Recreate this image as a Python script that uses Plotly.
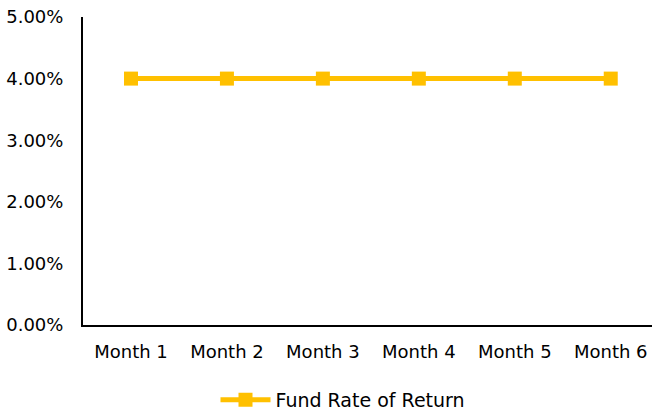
import plotly.graph_objects as go

months = ["Month 1", "Month 2", "Month 3", "Month 4", "Month 5", "Month 6"]
fund_return = [0.04, 0.04, 0.04, 0.04, 0.04, 0.04]
series_name = "Fund Rate of Return"

fig = go.Figure()
fig.add_trace(go.Scatter(
    x=months, y=fund_return, name=series_name, mode="lines+markers",
    line=dict(color="#FFC000", width=5),
    marker=dict(symbol="square", size=14, color="#FFC000"),
    cliponaxis=False,
))

font = dict(family="DejaVu Sans", size=18, color="#000000")
fig.update_layout(
    width=652, height=412,
    margin=dict(l=83, r=0, t=17, b=87, autoexpand=False),
    paper_bgcolor="white", plot_bgcolor="white",
    font=font,
    showlegend=True,
    legend=dict(orientation="h", x=343 / 652, xref="container", xanchor="center",
                y=-(400 - 325) / (325 - 17), yref="paper", yanchor="middle",
                font=dict(family="DejaVu Sans", size=19, color="#000000"),
                itemwidth=50, bgcolor="rgba(0,0,0,0)"),
)
fig.update_xaxes(
    type="category", range=[-0.5, 5.43], showline=True, linecolor="black",
    linewidth=2, showgrid=False, ticks="", zeroline=False,
    tickfont=font, ticklabelstandoff=9, automargin=False,
)
fig.update_yaxes(
    range=[0, 0.05], dtick=0.01, tickformat=".2%", showline=True,
    linecolor="black", linewidth=2, showgrid=False, ticks="", zeroline=False,
    tickfont=font, ticklabelstandoff=14, automargin=False,
)
fig.write_html("out.html", config={"displayModeBar": False},
               post_script="document.body.style.margin='0';document.body.style.overflow='hidden';")
